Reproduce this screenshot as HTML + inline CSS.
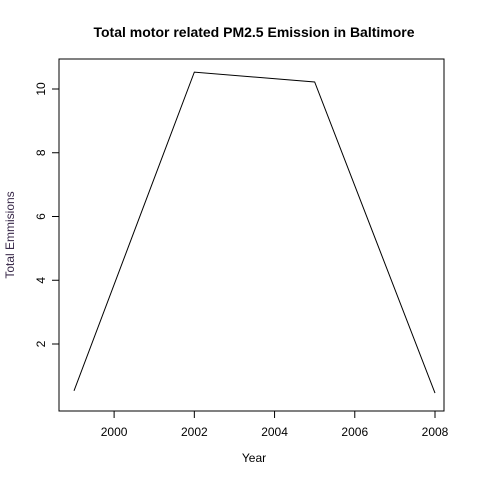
<!DOCTYPE html>
<html><head><style>body{margin:0;background:#fff}svg{display:block;font-family:"Liberation Sans",Arial,sans-serif}</style></head>
<body>
<svg id="chart" width="480" height="480">
<rect x="0" y="0" width="480" height="480" fill="#fff"/>
<text x="254" y="37" text-anchor="middle" font-size="14" font-weight="bold">Total motor related PM2.5 Emission in Baltimore</text>
<rect x="59" y="59" width="385" height="352" fill="none" stroke="#000"/>
<text x="254" y="462" text-anchor="middle" font-size="12">Year</text>
<text transform="translate(14,235) rotate(-90)" text-anchor="middle" font-size="12" fill="#3a2a4a">Total Emmisions</text>
<g id="axes"></g>
<path id="line" fill="none" stroke="#000" stroke-width="1"/>
</svg>
<script>
const years=[1999,2002,2005,2008];
const emissions=[0.53,10.53,10.22,0.46];
const xTicks=[2000,2002,2004,2006,2008];
const yTicks=[2,4,6,8,10];
const xs=v=>74+(v-1999)*(361/9);
const ys=v=>89+(10-v)*31.875;
const ns="http://www.w3.org/2000/svg";
const g=document.getElementById('axes');
function mk(t,a){const e=document.createElementNS(ns,t);for(const k in a)e.setAttribute(k,a[k]);g.appendChild(e);return e;}
xTicks.forEach(t=>{const x=xs(t);
const l=mk('line',{x1:x,x2:x,y1:411,y2:418,stroke:'#000'});


const tx=mk('text',{x:x,y:436,'text-anchor':'middle','font-size':12});tx.textContent=t;

});
mk('line',{x1:xs(2000),x2:xs(2008),y1:411,y2:411,stroke:'#000'});
yTicks.forEach(t=>{const y=ys(t);
const l=mk('line',{x1:52,x2:59,y1:y,y2:y,stroke:'#000'});


const tx=mk('text',{transform:`translate(45,${y}) rotate(-90)`,'text-anchor':'middle','font-size':12});tx.textContent=t;

});
document.getElementById('line').setAttribute('d',years.map((y,i)=>(i?'L':'M')+xs(y)+','+ys(emissions[i])).join(''));
</script>
</body></html>
